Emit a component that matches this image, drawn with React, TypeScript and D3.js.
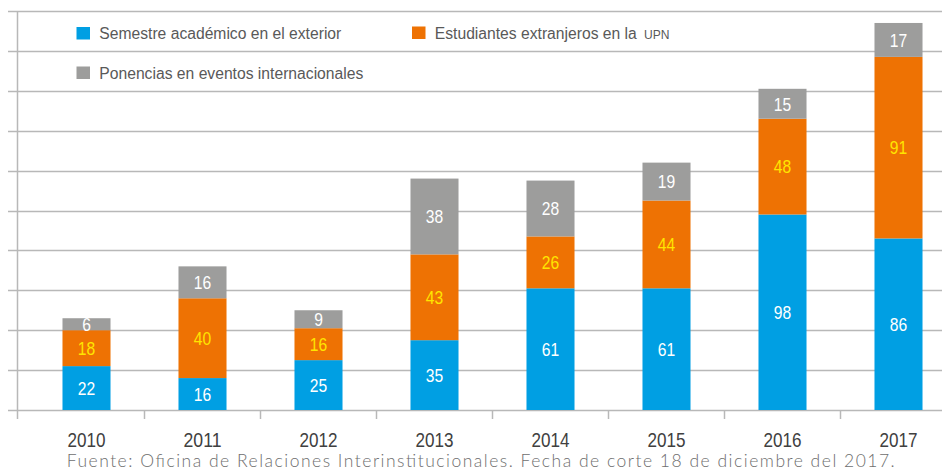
import React, { useEffect, useRef } from "react";
import * as d3 from "d3";

const years = ["2010", "2011", "2012", "2013", "2014", "2015", "2016", "2017"];
const semestre = [22, 16, 25, 35, 61, 61, 98, 86];
const estudiantes = [18, 40, 16, 43, 26, 44, 48, 91];
const ponencias = [6, 16, 9, 38, 28, 19, 15, 17];
const yTicks = [0, 20, 40, 60, 80, 100, 120, 140, 160, 180, 200];

const seriesKeys = ["semestre", "estudiantes", "ponencias"];
const colors = { semestre: "#009FE3", estudiantes: "#EE7203", ponencias: "#9D9D9C" };
const labelColors = { semestre: "#FFFFFF", estudiantes: "#FFE500", ponencias: "#FFFFFF" };

// no narrow face installed, so glyphs get squeezed with textLength
const SANS = "'Liberation Sans', Arial, sans-serif";

const App = () => {
  const svgRef = useRef<SVGSVGElement>(null);

  useEffect(() => {
    if (!svgRef.current) return;
    const svg = d3.select(svgRef.current);
    svg.selectAll("*").remove();

    const width = 942;
    const axisX = 17.5;
    const base = 410;

    const rows = years.map((year, i) => ({
      year,
      semestre: semestre[i],
      estudiantes: estudiantes[i],
      ponencias: ponencias[i],
    }));

    const x = d3.scaleBand().domain(years).range([28.5, 28.5 + 8 * 116]).paddingInner(0.586).paddingOuter(0.293);
    const y = d3.scaleLinear().domain([0, 200]).range([base, 11]);

    // gridlines + left ticks
    svg.append("g")
      .selectAll("line")
      .data(yTicks)
      .join("line")
      .attr("x1", 8).attr("x2", width)
      .attr("y1", (d) => Math.round(y(d)) + 0.5).attr("y2", (d) => Math.round(y(d)) + 0.5)
      .attr("stroke", "#B8B8B8").attr("stroke-width", 1.5);

    // vertical axis
    svg.append("line")
      .attr("x1", axisX).attr("x2", axisX)
      .attr("y1", y(200)).attr("y2", base + 9)
      .attr("stroke", "#B8B8B8").attr("stroke-width", 1.5);

    // category ticks between bars
    const step = x.step();
    svg.append("g")
      .selectAll("line")
      .data(years.slice(1))
      .join("line")
      .attr("x1", (d) => x(d)! - (step - x.bandwidth()) / 2)
      .attr("x2", (d) => x(d)! - (step - x.bandwidth()) / 2)
      .attr("y1", base).attr("y2", base + 9)
      .attr("stroke", "#B8B8B8").attr("stroke-width", 1.5);

    const stacked = d3.stack<any>().keys(seriesKeys)(rows);

    const layers = svg.append("g")
      .selectAll("g")
      .data(stacked)
      .join("g")
      .attr("fill", (s) => colors[s.key]);

    layers.selectAll("rect")
      .data((s) => s)
      .join("rect")
      .attr("x", (d) => x(d.data.year)!)
      .attr("width", x.bandwidth())
      .attr("y", (d) => y(d[1]))
      .attr("height", (d) => y(d[0]) - y(d[1]));

    // value labels
    stacked.forEach((s) => {
      svg.append("g")
        .selectAll("text")
        .data(s)
        .join("text")
        .attr("x", (d) => x(d.data.year)! + x.bandwidth() / 2)
        .attr("y", (d) => (y(d[0]) + y(d[1])) / 2)
        .attr("dy", "0.36em")
        .attr("text-anchor", "middle")
        .attr("font-family", SANS)
        .attr("font-size", 19)
        .attr("fill", labelColors[s.key])
        .attr("textLength", (d) => String(d[1] - d[0]).length * 8.7)
        .attr("lengthAdjust", "spacingAndGlyphs")
        .text((d) => d[1] - d[0]);
    });

    // year labels
    svg.append("g")
      .selectAll("text")
      .data(years)
      .join("text")
      .attr("x", (d) => x(d)! + x.bandwidth() / 2)
      .attr("y", 446.5)
      .attr("text-anchor", "middle")
      .attr("font-family", SANS)
      .attr("font-size", 21)
      .attr("fill", "#404040")
      .attr("textLength", 38)
      .attr("lengthAdjust", "spacingAndGlyphs")
      .text((d) => d);

    // legend
    const legend = [
      { key: "semestre", label: "Semestre académico en el exterior", x: 76.5, y: 27, len: 242 },
      { key: "estudiantes", label: "Estudiantes extranjeros en la", x: 412, y: 26.5, len: 202 },
      { key: "ponencias", label: "Ponencias en eventos internacionales", x: 76.5, y: 66.5, len: 264 },
    ];
    const lg = svg.append("g");
    legend.forEach((l) => {
      lg.append("rect").attr("x", l.x).attr("y", l.y).attr("width", 13.5).attr("height", 12.5).attr("fill", colors[l.key]);
      lg.append("text")
        .attr("x", l.x + 22.8).attr("y", l.y + 12.3)
        .attr("font-family", SANS).attr("font-size", 16).attr("fill", "#595959")
        .attr("textLength", l.len).attr("lengthAdjust", "spacingAndGlyphs")
        .text(l.label);
    });
    lg.append("text")
      .attr("x", 644).attr("y", 38.8)
      .attr("font-family", SANS).attr("font-size", 12.5).attr("fill", "#595959")
      .attr("textLength", 25.5).attr("lengthAdjust", "spacingAndGlyphs")
      .text("UPN");

    // source note
    svg.append("text")
      .attr("x", 66.7).attr("y", 467)
      .attr("font-family", "Lato, 'Open Sans', sans-serif").attr("font-weight", 300)
      .attr("font-size", 17.5).attr("fill", "#6E6E6E")
      .attr("textLength", 828).attr("lengthAdjust", "spacing")
      .text("Fuente: Oficina de Relaciones Interinstitucionales. Fecha de corte 18 de diciembre del 2017.");
  }, []);

  return (
    <svg
      ref={svgRef}
      width={942}
      height={475}
      style={{ position: "absolute", left: 0, top: 0, background: "#fff" }}
    />
  );
};

export default App;
